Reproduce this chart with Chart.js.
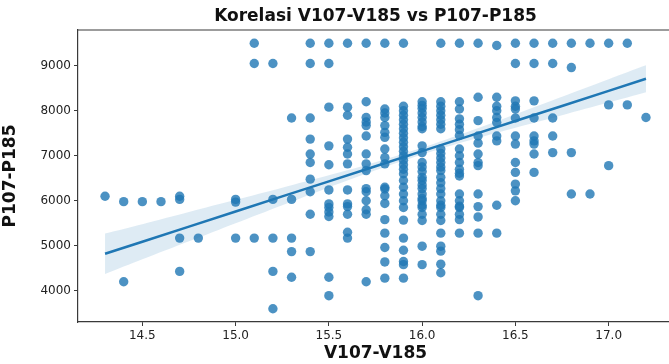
<!DOCTYPE html>
<html>
<head>
<meta charset="utf-8">
<script src="https://cdn.jsdelivr.net/npm/chart.js@4/dist/chart.umd.min.js"></script>
<style>
html,body{margin:0;padding:0;background:#fff;overflow:hidden;width:669px;height:364px;}
#wrap{position:absolute;left:0;top:0;width:690px;height:364px;}
</style>
</head>
<body>
<div id="wrap"><canvas id="c"></canvas></div>
<script>
// x categories (V107-V185) and the P107-P185 values observed at each
const xCols = [14.3, 14.4, 14.5, 14.6, 14.7, 14.8, 15.0, 15.1, 15.2, 15.3, 15.4, 15.5, 15.6, 15.7, 15.8, 15.9, 16.0, 16.1, 16.2, 16.3, 16.4, 16.5, 16.6, 16.7, 16.8, 16.9, 17.0, 17.1, 17.2];
const yCols = [
  [6100],
  [5980, 4200],
  [5980],
  [5980],
  [6100, 6030, 5170, 4430],
  [5170],
  [6030, 5970, 5170],
  [9500, 9050, 5170],
  [9050, 6030, 5170, 4430, 3600],
  [7840, 6030, 5170, 4870, 4300],
  [9500, 9050, 7840, 7370, 7040, 6850, 6480, 6200, 5700, 4870],
  [9500, 9050, 8080, 7220, 6800, 6240, 5930, 5850, 5750, 5650, 4300, 3890],
  [9500, 8080, 7900, 7370, 7190, 7040, 6820, 6240, 5930, 5870, 5700, 5300, 5170],
  [9500, 8200, 7850, 7750, 7670, 7440, 7040, 6820, 6670, 6270, 6200, 6000, 5800, 5700, 4200],
  [9500, 8040, 7950, 7850, 7670, 7520, 7410, 7150, 6960, 6820, 6300, 6260, 6110, 5940, 5580, 5280, 4960, 4640, 4280],
  [9500, 8100, 8000, 7900, 7800, 7700, 7600, 7500, 7400, 7300, 7200, 7100, 7000, 6900, 6800, 6700, 6600, 6450, 6300, 6150, 6000, 5850, 5570, 5170, 4900, 4650, 4580, 4280],
  [8200, 8120, 8050, 7950, 7850, 7750, 7650, 7600, 7220, 7070, 6850, 6750, 6650, 6520, 6450, 6350, 6270, 6150, 6050, 6000, 5900, 5850, 5700, 5560, 4990, 4580],
  [9500, 8200, 8100, 8000, 7900, 7800, 7700, 7600, 7150, 7050, 6950, 6850, 6750, 6670, 6520, 6400, 6270, 6150, 6000, 5900, 5850, 5700, 5560, 5280, 4990, 4880, 4590, 4400],
  [9500, 8200, 8040, 7820, 7700, 7580, 7450, 7150, 7000, 6850, 6700, 6610, 6550, 6150, 6000, 5880, 5850, 5700, 5580, 5280],
  [9500, 8300, 7780, 7440, 7280, 7040, 6850, 6780, 6150, 5870, 5640, 5280, 3890],
  [9450, 8300, 8100, 8000, 7850, 7740, 7440, 7330, 5900, 5280],
  [9500, 9050, 8220, 8100, 8040, 7840, 7440, 7260, 6850, 6630, 6370, 6220, 6000],
  [9500, 9050, 8220, 7840, 7440, 7330, 7260, 7040, 6630],
  [9500, 9050, 7840, 7440, 7070],
  [9500, 8960, 7070, 6150],
  [9500, 6150],
  [9500, 8130, 6780],
  [9500, 8130],
  [7850]
];

// regression fit and its confidence band
const regX     = [14.3, 14.5, 14.75, 15.0, 15.25, 15.5, 15.75, 16.0, 16.25, 16.5, 16.75, 17.0, 17.2];
const regY     = [4822, 5090, 5425, 5761, 6096, 6431, 6766, 7102, 7437, 7772, 8107, 8443, 8711];
const bandHalf = [450, 390, 325, 260, 195, 135, 90, 75, 100, 150, 205, 260, 300];

const xTicks = [14.5, 15.0, 15.5, 16.0, 16.5, 17.0];
const yTicks = [4000, 5000, 6000, 7000, 8000, 9000];

const scatterPts = xCols.flatMap((x, i) => yCols[i].map(y => ({x: x, y: y})));
const linePts  = regX.map((x, i) => ({x: x, y: regY[i]}));
const upperPts = regX.map((x, i) => ({x: x, y: regY[i] + bandHalf[i]}));
const lowerPts = regX.map((x, i) => ({x: x, y: regY[i] - bandHalf[i]}));

const BLUE = '#1f77b4';
const AXIS = '#3a3a3a';
const FONT = "'DejaVu Sans', sans-serif";

const topSpine = {
  id: 'topSpine',
  afterDraw(chart) {
    const a = chart.chartArea, ctx = chart.ctx;
    ctx.save();
    ctx.strokeStyle = AXIS;
    ctx.lineWidth = 1.2;
    ctx.beginPath();
    ctx.moveTo(a.left, a.top);
    ctx.lineTo(a.right, a.top);
    ctx.stroke();
    ctx.restore();
  }
};

new Chart(document.getElementById('c'), {
  type: 'scatter',
  data: {
    datasets: [
      {
        type: 'line', data: linePts, borderColor: BLUE, borderWidth: 2.5,
        pointRadius: 0, fill: false, order: 1, tension: 0
      },
      {
        type: 'line', data: upperPts, borderWidth: 0, borderColor: 'rgba(0,0,0,0)',
        pointRadius: 0, fill: false, order: 2, tension: 0.3
      },
      {
        type: 'line', data: lowerPts, borderWidth: 0, borderColor: 'rgba(0,0,0,0)',
        pointRadius: 0, fill: '-1', backgroundColor: 'rgba(31,119,180,0.15)', order: 2, tension: 0.3
      },
      {
        data: scatterPts, backgroundColor: 'rgba(31,119,180,0.8)', borderWidth: 0,
        pointRadius: 4.7, pointHoverRadius: 4.7, order: 3
      }
    ]
  },
  options: {
    responsive: true,
    maintainAspectRatio: false,
    animation: false,
    devicePixelRatio: 1,
    layout: { padding: { left: 0, right: 17, top: 0, bottom: 0 } },
    plugins: {
      legend: { display: false },
      tooltip: { enabled: false },
      title: {
        display: true, fullSize: false,
        text: 'Korelasi V107-V185 vs P107-P185',
        color: '#111',
        font: { family: FONT, size: 17, weight: 'bold' },
        padding: { top: 6, bottom: 3.6 }
      }
    },
    scales: {
      x: {
        type: 'linear', min: 14.155, max: 17.345,
        afterBuildTicks: s => { s.ticks = xTicks.map(v => ({value: v})); },
        afterFit: s => { s.height = 42; },
        grid: { display: true, drawOnChartArea: false, drawTicks: true, tickLength: 4, color: AXIS, lineWidth: 1 },
        border: { display: true, color: AXIS, width: 1.2 },
        ticks: { color: '#222', font: { family: FONT, size: 12 }, padding: 3, maxRotation: 0,
                 callback: v => Number(v).toFixed(1) },
        title: { display: true, text: 'V107-V185', color: '#111',
                 font: { family: FONT, size: 17, weight: 'bold' }, padding: { top: 4, bottom: 0 } }
      },
      y: {
        type: 'linear', min: 3305, max: 9795,
        afterBuildTicks: s => { s.ticks = yTicks.map(v => ({value: v})); },
        afterFit: s => { s.width = 78; },
        grid: { display: true, drawOnChartArea: false, drawTicks: true, tickLength: 4, color: AXIS, lineWidth: 1 },
        border: { display: true, color: AXIS, width: 1.2 },
        ticks: { color: '#222', font: { family: FONT, size: 12 }, padding: 3,
                 callback: v => String(v) },
        title: { display: true, text: 'P107-P185', color: '#111',
                 font: { family: FONT, size: 17, weight: 'bold' }, padding: { top: 0, bottom: 4 } }
      }
    }
  },
  plugins: [topSpine]
});
</script>
</body>
</html>
